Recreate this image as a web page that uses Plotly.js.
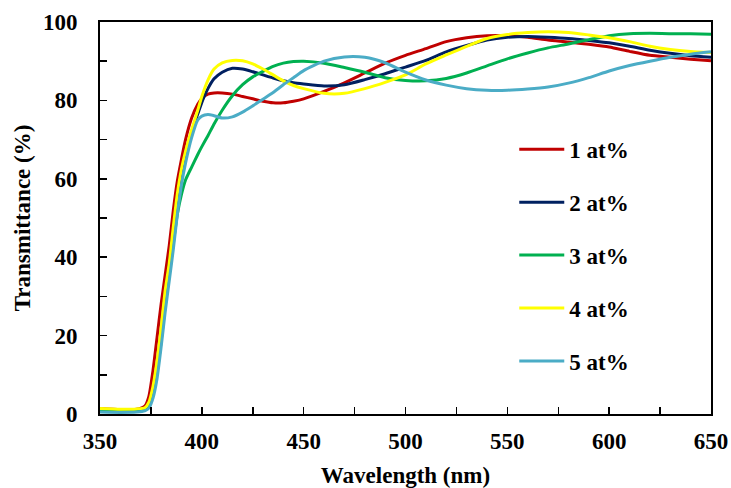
<!DOCTYPE html>
<html>
<head>
<meta charset="utf-8">
<script src="https://cdn.plot.ly/plotly-3.0.1.min.js"></script>
<style>html,body{margin:0;padding:0;background:#fff;}#chart{width:731px;height:488px;}</style>
</head>
<body>
<div id="chart"></div>
<script>
const wavelength = [350,360,368,372,374,376,378,380,382,384,386,388,390,392,395,398,400,403,406,410,415,420,425,430,435,440,445,450,460,470,480,490,500,510,520,530,540,550,560,570,580,590,600,610,620,630,640,650];

const t1 = [1.4,1.1,1.2,2,4.5,11,19.5,28,35.5,43,52,59.5,65,70,75.5,79,80.5,81.6,81.9,81.9,81.6,81,80.4,79.8,79.4,79.4,79.8,80.4,82.3,84.5,87,89.5,91.5,93.2,95,96,96.5,96.5,96.1,95.4,94.9,94.3,93.6,92.5,91.5,91,90.5,90.1];
const t2 = [1.0,0.8,0.9,1.4,2.6,6,12.5,21,30.5,38,47,55.5,62,66.5,72,76.5,79.5,83,85.5,87.2,88.2,88,87.3,86.5,85.7,85,84.5,84.2,83.7,84,85.3,86.8,88.5,90.2,92.4,94,95.4,96.1,96.3,96.1,95.8,95.3,94.7,93.8,92.8,92,91.4,91];
const t3 = [1.0,0.8,0.9,1.3,2.3,5,10.5,18.5,27.5,35.5,43.5,51,56,59.7,63,66.2,68.2,71,74,77.5,81.2,84,86,87.4,88.7,89.5,89.9,90,89.5,88.4,87.2,85.8,85.1,85,85.6,87,88.8,90.6,92.1,93.4,94.4,95.5,96.5,97,97.1,97,97,96.9];
const t4 = [1.4,1.2,1.3,1.6,3,7,13.5,22,31.5,38.5,47.8,56.3,62.5,67,72.5,77.5,81,85.2,88,89.6,90.2,90.1,89.3,88,86.5,85,83.8,83,81.8,81.8,83,84.6,86.5,89.3,91.6,93.8,95.8,96.8,97.3,97.5,97.3,96.7,96,95,93.8,93,92.5,92.2];
const t5 = [0.5,0.4,0.5,0.8,1.5,4,9,17,26,34,42,51,58.5,64,70.5,75,76,76.4,76.1,75.5,75.8,77,78.6,80.3,82,84,85.8,87.6,90,91.1,91,89.6,87.2,85.2,83.9,83,82.6,82.6,82.9,83.4,84.4,85.8,87.5,88.9,90,91,91.8,92.4];

const seriesNames = ['1 at%','2 at%','3 at%','4 at%','5 at%'];
const seriesColors = ['#C00000','#002060','#00B050','#FFFF00','#4BACC6'];
const seriesValues = [t1,t2,t3,t4,t5];

const xTickVals = [350,400,450,500,550,600,650];
const yTickVals = [0,20,40,60,80,100];

const fontFamily = 'Liberation Serif, Times New Roman, serif';
const fs = 23;

const traces = seriesValues.map((vals, i) => ({
  x: wavelength,
  y: vals,
  type: 'scatter',
  mode: 'lines',
  name: seriesNames[i],
  legendgroup: 'g' + i,
  line: {color: seriesColors[i], width: 3, shape: 'spline', smoothing: 0.6}
}));

const layout = {
  width: 731, height: 488,
  margin: {l: 100, r: 20, t: 22, b: 74},
  paper_bgcolor: '#fff', plot_bgcolor: '#fff',
  font: {family: fontFamily, size: fs, color: '#000', weight: 'bold'},
  showlegend: true,
  legend: {
    x: 0.678, y: 0.73, xanchor: 'left', yanchor: 'top',
    bgcolor: 'rgba(0,0,0,0)', borderwidth: 0,
    tracegroupgap: 20, itemwidth: 45,
    font: {family: fontFamily, size: fs, color: '#000', weight: 'bold'}
  },
  xaxis: {
    range: [350, 650], tickvals: xTickVals, ticktext: xTickVals.map(String),
    ticks: 'inside', ticklen: 7, tickwidth: 1.5, tickcolor: '#000',
    minor: {ticks: 'inside', dtick: 25, tick0: 350, ticklen: 7, tickwidth: 1.5, tickcolor: '#000'},
    showline: true, linewidth: 2, linecolor: '#000', mirror: true,
    showgrid: false, zeroline: false,
    ticklabelstandoff: 5,
    tickfont: {family: fontFamily, size: fs, color: '#000', weight: 'bold'},
    title: {text: 'Wavelength (nm)', standoff: 14, font: {family: fontFamily, size: fs, color: '#000', weight: 'bold'}},
    automargin: false
  },
  yaxis: {
    range: [0, 100], tickvals: yTickVals, ticktext: yTickVals.map(String),
    ticks: 'inside', ticklen: 7, tickwidth: 1.5, tickcolor: '#000',
    minor: {ticks: 'inside', dtick: 10, tick0: 0, ticklen: 7, tickwidth: 1.5, tickcolor: '#000'},
    showline: true, linewidth: 2, linecolor: '#000', mirror: true,
    showgrid: false, zeroline: false,
    ticklabelstandoff: 16,
    tickfont: {family: fontFamily, size: fs, color: '#000', weight: 'bold'},
    title: {text: 'Transmittance (%)', standoff: 6, font: {family: fontFamily, size: fs, color: '#000', weight: 'bold'}},
    automargin: false
  }
};

Plotly.newPlot('chart', traces, layout, {displayModeBar: false, staticPlot: true});
</script>
</body>
</html>
